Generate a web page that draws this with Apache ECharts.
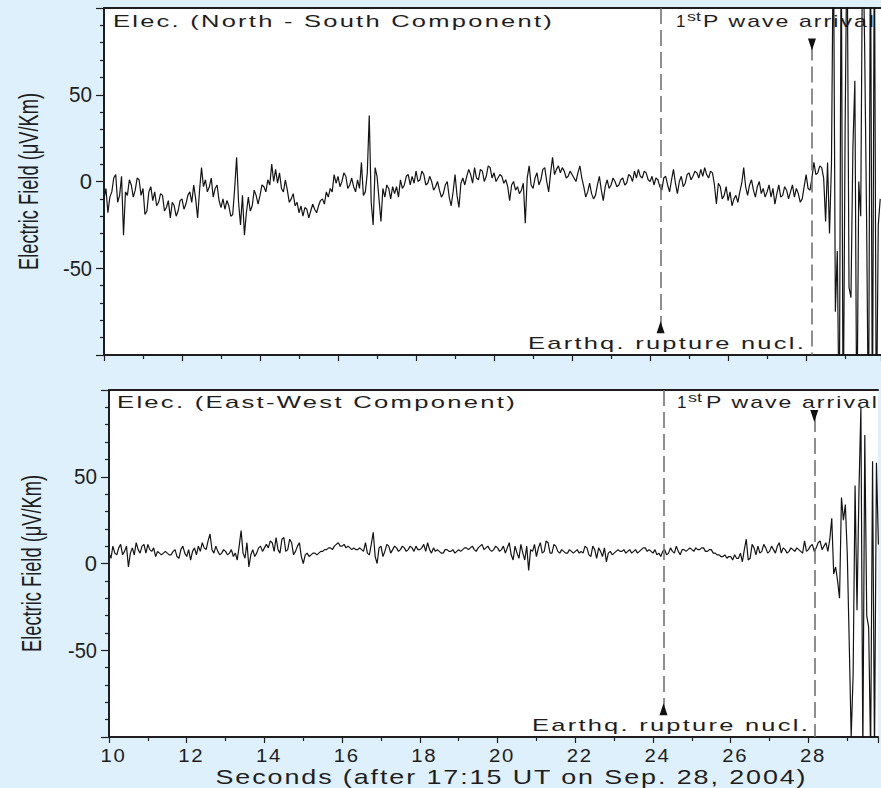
<!DOCTYPE html>
<html><head><meta charset="utf-8">
<script src="https://cdn.jsdelivr.net/npm/echarts@6/dist/echarts.min.js"></script>
<style>
html,body{margin:0;padding:0;background:#ddf0fb;}
#chart{width:881px;height:788px;}
</style></head><body><div id="chart"></div>
<script>
// ---- data (µV/Km), sampled every 0.05 s starting at 10.00 s
const sampleStart = 10.0, sampleStep = 0.05;

const nsValues = [
  -10,-4,-18,-9,-6,2,4,-12,-8,3,-31,-6,-8,1,-2,-9,-5,2,1,-8,
  -4,-19,-17,-6,-3,-11,-6,-14,-12,-7,-8,-17,-15,-11,-21,-12,-14,-20,-17,-11,
  -10,-16,-13,-8,-6,-12,-2,-10,-21,-5,8,-3,1,-6,-3,2,-9,-4,-2,-11,
  -15,-10,-16,-11,-14,-20,-19,-4,14,-12,-25,-8,-31,-18,-9,-17,-14,-5,-8,-13,
  -8,-2,-3,-6,1,-2,10,0,7,-1,5,-4,-6,1,-5,-12,-10,-7,-14,-12,
  -18,-14,-20,-15,-16,-21,-17,-13,-16,-18,-14,-11,-10,-13,-6,-9,-4,-6,4,-1,
  3,-3,0,5,3,-4,-2,2,-3,-6,1,-4,11,-8,-6,5,38,-12,-25,8,
  3,-10,-23,-4,-9,-2,-4,-10,-3,-7,-3,-9,1,-4,-2,3,4,-2,3,-1,
  6,0,1,6,4,-2,-1,3,0,-5,-3,0,-5,-9,-7,-2,0,-9,-14,-6,
  4,-8,-15,-1,2,-2,3,7,4,-1,8,2,1,7,6,0,3,9,8,2,
  5,0,2,4,3,-1,1,-3,-11,-2,0,-5,-3,-7,-5,-1,-24,2,9,-2,
  -4,2,5,-2,1,7,8,0,-6,5,14,4,7,9,5,8,6,2,3,6,
  4,2,0,5,9,2,-3,-9,-6,-1,-7,-10,-8,-2,3,-5,-11,-3,1,-4,
  -2,2,0,-3,-2,1,2,-2,-1,4,3,0,6,2,7,3,2,6,5,1,
  0,3,-2,2,1,-3,-5,2,3,-2,-6,1,7,-1,-7,0,3,-3,-1,4,
  5,1,3,6,5,2,7,3,8,4,2,6,5,-2,-13,-1,-3,-10,-8,-3,
  -11,-6,-14,-10,-8,-12,-6,-1,8,-3,-8,-2,1,-5,-9,-3,0,-7,-4,-9,
  -6,-2,-9,-4,-13,-7,-2,-9,-8,-3,-5,-10,-6,-2,-9,-4,-7,-12,-10,-3,
  4,-4,-5,2,11,4,5,9,8,
  2,-23,11,-30,10,150,-75,-40,-150,150,
  -150,30,150,-61,-67,20,58,-150,0,-20,
  150,79,-20,-150,150,-150,150,-150,-25,-10
];
const ewValues = [
  6,3,10,6,5,9,11,5,7,10,-2,6,9,5,12,8,6,10,11,6,
  11,8,7,9,4,7,6,5,6,7,6,5,5,7,8,4,3,8,10,6,
  4,8,2,7,9,5,10,7,12,9,8,13,17,8,6,10,7,5,6,8,
  7,5,6,8,4,6,2,10,19,6,3,12,-2,5,8,4,6,9,10,7,
  9,11,9,13,12,7,15,8,6,14,15,7,8,14,12,5,7,10,12,4,
  0,5,6,4,5,6,6,5,6,7,7,8,8,9,9,8,10,11,12,10,
  10,11,9,10,9,8,9,8,8,9,8,7,12,6,5,11,18,4,0,9,
  10,4,7,11,10,6,8,10,9,7,8,10,9,7,8,10,9,7,10,8,
  8,9,11,7,12,8,6,9,7,8,7,6,6,8,8,7,7,8,6,7,
  8,7,8,9,9,8,9,10,8,7,9,10,11,8,9,10,8,7,8,10,
  9,7,8,10,6,9,12,5,2,10,6,3,11,6,2,10,-4,8,7,11,
  4,9,12,6,7,13,12,6,6,11,10,7,6,8,7,6,6,8,7,6,
  7,8,6,7,6,10,9,5,4,10,8,3,9,7,4,9,1,6,7,5,
  6,7,8,7,7,8,6,7,8,6,7,8,6,7,8,9,9,7,8,7,
  6,8,5,6,4,7,8,5,6,9,7,6,10,7,5,8,8,7,8,9,
  8,7,9,8,8,9,9,7,7,8,8,6,6,5,5,4,4,5,3,4,
  4,2,5,3,3,6,1,8,14,2,3,11,9,5,10,6,7,11,9,6,
  7,10,8,6,10,12,6,9,8,6,7,9,8,7,9,8,7,6,13,7,
  8,10,11,7,9,12,13,8,10,
  12,7,14,26,-6,-2,-10,-20,38,25,
  34,5,-46,-100,-64,45,-27,42,90,-110,
  74,-30,-37,-110,59,-110,58,11
];

const ruptureTime = 24.27;   // Earthq. rupture nucleation
const pWaveTime = 28.15;     // 1st P wave arrival
const xTickLabels = [10,12,14,16,18,20,22,24,26,28];
const yTickLabels = [-50,0,50];
const panelTitles = ['Elec. (North - South Component)', 'Elec. (East-West Component)'];
const pLabel = 'P wave arrival';
const rLabel = 'Earthq. rupture nucl.';
const yName = 'Electric Field (\u03bcV/Km)';
const xName = 'Seconds (after 17:15 UT on Sep. 28, 2004)';

function buildData(vals) {
  return vals.map((v, i) => [Math.round((sampleStart + i * sampleStep) * 1000) / 1000, v]);
}

const dark = '#1e1e1e';
const fam = 'Liberation Sans, Arial, Helvetica, sans-serif';

function xAxes(gi, max, withLabels) {
  return [{
    gridIndex: gi, type: 'value', min: 10, max: max, interval: 2, position: 'bottom',
    axisLine: {show: true, onZero: false, lineStyle: {color: dark, width: 2}},
    axisTick: {show: true, inside: false, length: 6, lineStyle: {color: dark, width: 1.2}},
    minorTick: {show: true, splitNumber: 2, length: 4, lineStyle: {color: dark, width: 1.2}},
    splitLine: {show: false}, minorSplitLine: {show: false},
    axisLabel: withLabels ? {
      show: true, fontFamily: fam, fontSize: 18, color: dark, margin: 10, padding: [0,0,0,9],
      formatter: v => xTickLabels.includes(v) ? String(v) : ''
    } : {show: false},
    name: withLabels ? xName : '', nameLocation: 'middle', nameGap: 28,
    nameTextStyle: {fontFamily: fam, fontSize: 21, color: dark, padding: [0,0,0,36]}
  }, {
    gridIndex: gi, type: 'value', min: 10, max: max, position: 'top',
    axisLine: {show: true, onZero: false, lineStyle: {color: dark, width: 2}},
    axisTick: {show: false}, axisLabel: {show: false}, splitLine: {show: false}
  }];
}
function yAxis(gi, gap) {
  return {
    gridIndex: gi, type: 'value', min: -100, max: 100, interval: 50,
    axisLine: {show: true, onZero: false, lineStyle: {color: dark, width: 2}},
    axisTick: {show: true, inside: false, length: 8, lineStyle: {color: dark, width: 1.2}},
    minorTick: {show: true, splitNumber: 5, length: 4, lineStyle: {color: dark, width: 1.2}},
    splitLine: {show: false}, minorSplitLine: {show: false},
    axisLabel: {fontFamily: fam, fontSize: 22, color: dark, margin: 12,
      formatter: v => yTickLabels.includes(v) ? String(v) : ''},
    name: yName, nameLocation: 'middle', nameRotate: 90, nameGap: gap,
    nameTextStyle: {fontFamily: fam, fontSize: 27, color: dark}
  };
}
function series(xi, yi, data, pArrow, rArrow) {
  return {
    type: 'line', xAxisIndex: xi, yAxisIndex: yi, data: data, showSymbol: false, symbol: 'none',
    clip: true, lineStyle: {color: '#141414', width: 1.2}, animation: false, silent: true,
    markLine: {
      silent: true, symbol: ['none','none'], label: {show: false}, animation: false,
      lineStyle: {type: [16, 6], color: '#6a6a6a', width: 1.5},
      data: [
        [{coord: [ruptureTime, 100]}, {coord: [ruptureTime, rArrow]}],
        [{coord: [pWaveTime, pArrow]}, {coord: [pWaveTime, -100]}]
      ]
    },
    markPoint: {
      silent: true, symbol: 'triangle', symbolSize: [8, 12], label: {show: false}, animation: false,
      itemStyle: {color: '#111'},
      data: [
        {coord: [pWaveTime, pArrow], symbolRotate: 180},
        {coord: [ruptureTime, rArrow]}
      ]
    }
  };
}

const txt = (text, x, y, size) => ({
  type: 'text', x: x, y: y, silent: true,
  style: {text: text, font: size + 'px "Liberation Sans", Arial, sans-serif', fill: dark,
          textAlign: 'left', textVerticalAlign: 'middle'}
});

// target run widths (px) used to widen the lettering like the original figure
const textLengths = {};
textLengths[panelTitles[0]] = 441;
textLengths[panelTitles[1]] = 400;
textLengths[rLabel] = 278;
textLengths[pLabel] = 173;
textLengths['st'] = 14;
textLengths[xName] = 592;
textLengths[yName] = 177;
textLengths['50'] = 23;
textLengths['-50'] = 29;
xTickLabels.forEach(v => { textLengths[String(v)] = 26; });
const noTracking = [yName, '50', '-50', 'st'];

function stretchTexts() {
  document.querySelectorAll('#chart svg text').forEach(el => {
    const key = el.textContent;
    if (Object.prototype.hasOwnProperty.call(textLengths, key)) {
      el.setAttribute('textLength', textLengths[key]);
      el.setAttribute('lengthAdjust', 'spacingAndGlyphs');
      if (!noTracking.includes(key)) el.style.letterSpacing = '1.5px';
    }
  });
}

const chart = echarts.init(document.getElementById('chart'), null, {renderer: 'svg'});
chart.on('finished', stretchTexts);
chart.setOption({
  animation: false,
  backgroundColor: '#ddf0fb',
  grid: [
    {left: 104, right: 0, top: 8, bottom: 433, show: true, backgroundColor: '#fff', borderWidth: 0},
    {left: 109, right: 0, top: 390, bottom: 51, show: true, backgroundColor: '#fff', borderWidth: 0}
  ],
  xAxis: [].concat(xAxes(0, 29.92, false), xAxes(1, 29.79, true)),
  yAxis: [yAxis(0, 62), yAxis(1, 64)],
  series: [
    series(0, 0, buildData(nsValues), 79, -84),
    series(2, 1, buildData(ewValues), 85, -84)
  ],
  graphic: [
    txt(panelTitles[0], 113, 21, 17),
    txt('1', 676, 21, 17), txt('st', 687, 16.5, 12), txt(pLabel, 703, 21, 17),
    txt(rLabel, 528, 343.5, 17),
    txt(panelTitles[1], 117, 402, 17),
    txt('1', 677, 402.5, 17), txt('st', 688, 398, 12), txt(pLabel, 706, 402.5, 17),
    txt(rLabel, 532, 725.5, 17)
  ]
});
stretchTexts();
</script></body></html>
